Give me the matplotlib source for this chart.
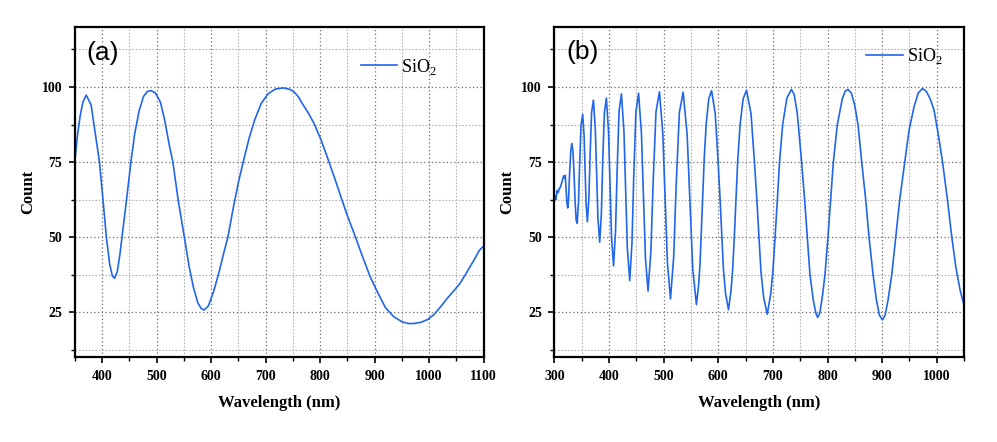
import numpy as np
import matplotlib
matplotlib.use("Agg")
import matplotlib.pyplot as plt
from matplotlib.ticker import MultipleLocator

# panel (a): SiO2 spectrum
wl_a = [350, 355, 360, 365, 371, 380, 388, 395, 402, 408, 414, 419, 423,
        428, 433, 437, 445, 453, 460, 468, 476, 483, 490,
        498, 507, 515, 523, 530, 540, 551, 560, 568, 576, 582, 587,
        595, 605, 615, 623, 631, 640, 650, 659, 670, 680, 692, 705, 718, 732,
        745, 752, 760, 767, 779, 790, 802, 813, 828, 840, 850, 865, 878, 892,
        905, 920, 935, 950, 962, 972, 985, 997, 1008, 1020, 1033, 1045, 1057,
        1070, 1083, 1092, 1100]
count_a = [75.0, 84.0, 90.5, 95.0, 97.3, 94.0, 84.0, 75.5, 62.0, 50.0, 41.0, 37.0, 36.3,
           38.5, 44.5, 50.5, 62.5, 75.0, 84.5, 92.0, 96.8, 98.5, 98.8,
           98.0, 95.0, 89.0, 81.0, 75.0, 62.0, 50.0, 40.0, 33.0, 28.0, 26.2, 25.7,
           27.0, 32.0, 38.5, 44.5, 50.0, 59.0, 68.0, 75.0, 83.0, 89.0, 94.5, 97.8, 99.3, 99.7,
           99.2, 98.4, 96.8, 94.6, 91.2, 87.5, 82.3, 76.8, 69.0, 62.5, 57.2, 50.0, 43.5, 36.8,
           31.8, 26.5, 23.5, 21.8, 21.2, 21.2, 21.6, 22.5, 24.0, 26.5, 29.5, 32.0, 34.6,
           38.5, 42.5, 45.5, 47.0]

# panel (b): thicker SiO2 film
wl_b = [300, 301.5, 303, 305, 307, 309, 311, 313, 315, 317, 319, 320, 321.5, 323,
        324.5, 326, 328, 330, 332, 334, 336, 338, 340, 341.8,
        344.3, 346.4, 348.9, 351.9, 354.5, 356.2, 358.1, 360.5,
        363.3, 365.5, 368.2, 371.5, 375, 377.3, 379.8, 383,
        386.1, 388.5, 391.6, 395.3, 399.2, 401.9, 404.7, 408.4,
        412, 414.9, 418.5, 422.8, 427.4, 430.4, 433.7, 438,
        442.1, 445.3, 449.3, 454.2, 459.4, 462.9, 466.7, 471.5,
        476.7, 480.9, 486.1, 492.4, 498.5, 502.5, 507.1, 512.6,
        518.4, 523, 528.8, 535.8, 543.1, 548, 553.3, 560.1,
        564.1, 566.6, 569.3, 571.8, 574.3, 578, 582.6, 587.8,
        594.5, 599.6, 603.1, 606.2, 609.4, 613.3, 618.8,
        623.6, 626.5, 629.8, 632.8, 635.7, 640.1, 645.6, 651.8,
        660, 666.2, 670.5, 674.4, 678.2, 683, 689.7,
        696.1, 700, 704.3, 708.4, 712.3, 718.1, 725.6, 733.8,
        739, 744.7, 752.6, 758.1, 763, 767.9, 774, 778.5, 782,
        786, 790.5, 795.4, 800.8, 805.8, 810.7, 818, 827.2, 832.5, 837.5,
        843.5, 849.7, 855.8, 862.6, 869.9, 876, 883.4, 889.5, 895, 900.5,
        905.5, 910.8, 917.6, 924.9, 932.2, 941.4, 949.3, 958.4, 966, 974,
        981, 988, 995, 1002.4, 1010.5, 1019.6, 1027, 1034.8, 1042.7, 1049, 1050]
count_b = [62.0, 63.8, 62.5, 65.5, 64.8, 66.2, 66.5, 67.8, 69.0, 70.4, 69.6, 70.6, 66.0, 61.5,
           59.7, 62.5, 71.5, 78.5, 81.2, 78.8, 71.5, 62.0, 55.5, 54.6,
           61.9, 74.6, 87.3, 90.9, 83.7, 73.0, 61.2, 55.1,
           63.2, 77.4, 91.6, 95.6, 86.1, 72.0, 56.3, 48.3,
           57.9, 74.7, 91.5, 96.3, 85.1, 68.4, 49.9, 40.4,
           51.9, 71.9, 92.0, 97.7, 85.3, 66.6, 46.1, 35.5,
           48.0, 69.8, 91.7, 97.9, 84.7, 65.0, 43.2, 32.0,
           45.3, 68.5, 91.8, 98.4, 84.6, 63.9, 41.1, 29.4,
           43.2, 67.3, 91.4, 98.3, 84.1, 62.9, 39.5, 27.5,
           34.0, 41.0, 52.7, 64.4, 76.1, 87.8, 96.0, 98.8,
           91.1, 75.6, 63.6, 51.6, 39.6, 31.3, 25.8,
           32.5, 39.6, 51.6, 63.6, 75.7, 87.6, 96.1, 98.9,
           91.1, 75.2, 62.9, 50.6, 38.4, 30.0, 24.3,
           31.1, 38.5, 50.7, 63.0, 75.4, 87.7, 96.3, 99.2,
           97.5, 91.2, 75.0, 62.5, 50.0, 37.5, 29.0, 24.8, 23.2,
           24.8, 30.1, 37.5, 50.0, 62.5, 75.0, 87.5, 96.2, 98.6, 99.2,
           98.0, 94.0, 87.5, 75.0, 62.5, 50.0, 37.5, 29.0, 24.0, 22.4,
           24.0, 29.0, 37.5, 50.0, 62.5, 75.0, 85.7, 93.4, 98.0, 99.5,
           98.5, 96.0, 92.3, 84.6, 75.1, 62.3, 50.7, 40.1, 32.3, 27.9, 27.5]

panels = [("(a)", wl_a, count_a, (350, 1100)),
          ("(b)", wl_b, count_b, (300, 1050))]
legend_label = "SiO$_\\mathrm{2}$"

plt.rcParams["mathtext.fontset"] = "custom"
plt.rcParams["mathtext.rm"] = "Liberation Serif"

serif = "Liberation Serif"
line_color = "#2166e8"

fig = plt.figure(figsize=(9.97, 4.42), dpi=100)
axes = [fig.add_axes([0.075, 0.192, 0.410, 0.747]),
        fig.add_axes([0.556, 0.192, 0.411, 0.747])]
legend_pos = [(0.660, 0.880), (0.722, 0.912)]
tag_pos = [(0.029, 0.921), (0.0285, 0.925)]

for ax, (tag, wl, cnt, xlim), lpos, tpos in zip(axes, panels, legend_pos, tag_pos):
    ax.plot(wl, cnt, color=line_color, lw=1.2, label=legend_label)
    ax.set_xlim(*xlim)
    ax.set_ylim(10, 120)
    ax.xaxis.set_major_locator(MultipleLocator(100))
    ax.xaxis.set_minor_locator(MultipleLocator(50))
    ax.yaxis.set_major_locator(MultipleLocator(25))
    ax.yaxis.set_minor_locator(MultipleLocator(12.5))

    ax.grid(True, which="major", color="#6e6e6e", linestyle=(0, (1, 2)), lw=0.9)
    ax.grid(True, which="minor", color="#b4b4b4", linestyle=(0, (1.5, 1.5)), lw=0.8)
    ax.set_axisbelow(True)

    for sp in ax.spines.values():
        sp.set_linewidth(1.6)
    ax.tick_params(which="major", direction="out", length=4, width=1.2, pad=5)
    ax.tick_params(which="minor", direction="out", length=3, width=1.0)
    for lab in ax.get_xticklabels() + ax.get_yticklabels():
        lab.set_fontfamily(serif)
        lab.set_fontweight("bold")
        lab.set_fontsize(10)

    ax.set_xlabel("Wavelength (nm)", fontfamily=serif, fontweight="bold",
                  fontsize=12, labelpad=9)
    ax.set_ylabel("Count", fontfamily=serif, fontweight="bold",
                  fontsize=12, labelpad=4)

    ax.text(tpos[0], tpos[1], tag, transform=ax.transAxes, ha="left", va="center",
            fontsize=19, fontfamily="Liberation Sans")

    ax.legend(loc="center left", bbox_to_anchor=lpos, frameon=False,
              handlelength=2.0, handletextpad=0.25,
              prop={"family": serif, "size": 13})

fig.savefig("out.png", dpi=100)
